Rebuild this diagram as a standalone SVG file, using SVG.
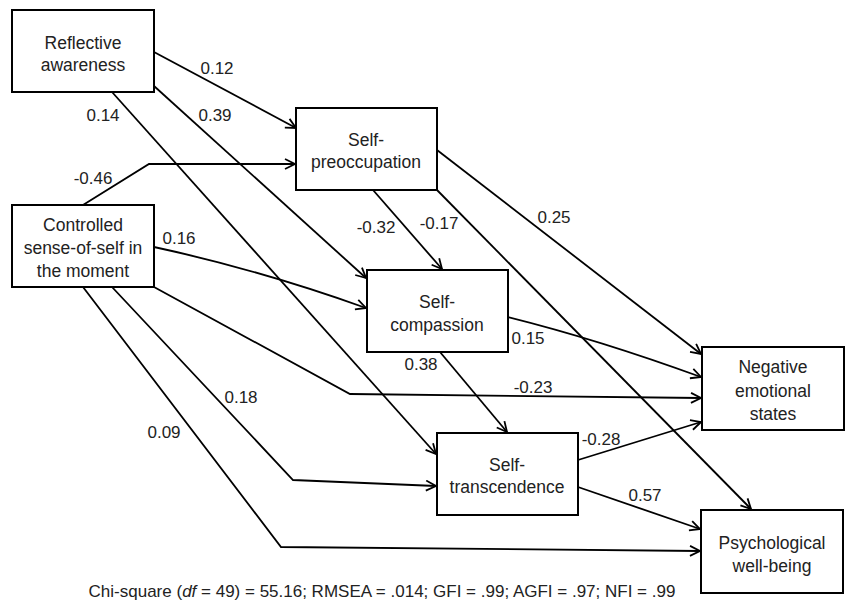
<svg xmlns="http://www.w3.org/2000/svg" width="846" height="607" viewBox="0 0 846 607">
<style>
.box{fill:#fff;stroke:#000;stroke-width:2}
.t{font-family:"Liberation Sans",Arial,sans-serif;font-size:17.5px;fill:#222;text-anchor:middle}
.lbl{font-family:"Liberation Sans",Arial,sans-serif;font-size:17px;fill:#222;text-anchor:middle}
.c{fill:none;stroke:#000;stroke-width:1.8;marker-end:url(#ah)}
.foot{font-family:"Liberation Sans",Arial,sans-serif;font-size:17px;fill:#222;text-anchor:middle}
</style>
<defs>
<marker id="ah" viewBox="0 0 12 12" refX="11" refY="6" markerWidth="12" markerHeight="12" markerUnits="userSpaceOnUse" orient="auto">
<path d="M1,1 L11,6 L1,11" fill="none" stroke="#000" stroke-width="1.8"/>
</marker>
</defs>
<rect width="846" height="607" fill="#fff"/>
<g id="connectors">
<path class="c" d="M154,52 L296,128"/>
<path class="c" d="M154,86 L366,278"/>
<path class="c" d="M112,92 L436,454"/>
<path class="c" d="M83,205 L149,164 L295,164"/>
<path class="c" d="M154,247 Q260,270 366,308"/>
<path class="c" d="M154,287 L350,394 L701,398"/>
<path class="c" d="M112,287 L293,480 L436,486"/>
<path class="c" d="M83,287 L281,547 L700,551"/>
<path class="c" d="M373,190 L442,269"/>
<path class="c" d="M437,190 L751,509"/>
<path class="c" d="M437,150 L701,354"/>
<path class="c" d="M508,317 Q600,340 701,377"/>
<path class="c" d="M440,352 L507,432"/>
<path class="c" d="M578,460 L701,422"/>
<path class="c" d="M578,487 L700,529"/>
</g>
<g id="labels">
<text class="lbl" x="217" y="74">0.12</text>
<text class="lbl" x="215" y="121">0.39</text>
<text class="lbl" x="103" y="121">0.14</text>
<text class="lbl" x="93" y="184">-0.46</text>
<text class="lbl" x="179" y="244">0.16</text>
<text class="lbl" x="533" y="393">-0.23</text>
<text class="lbl" x="241" y="403">0.18</text>
<text class="lbl" x="164" y="438">0.09</text>
<text class="lbl" x="376" y="233">-0.32</text>
<text class="lbl" x="439" y="229">-0.17</text>
<text class="lbl" x="554" y="223">0.25</text>
<text class="lbl" x="528" y="344">0.15</text>
<text class="lbl" x="421" y="370">0.38</text>
<text class="lbl" x="601" y="445">-0.28</text>
<text class="lbl" x="645" y="501">0.57</text>
</g>
<g id="reflective">
<rect class="box" x="12" y="10" width="142" height="82"/>
<text class="t" x="83" y="49">Reflective</text>
<text class="t" x="83" y="71">awareness</text>
</g>
<g id="controlled">
<rect class="box" x="12" y="205" width="142" height="82"/>
<text class="t" x="83" y="231">Controlled</text>
<text class="t" x="83" y="254">sense-of-self in</text>
<text class="t" x="83" y="277">the moment</text>
</g>
<g id="preoccupation">
<rect class="box" x="296" y="108" width="141" height="82"/>
<text class="t" x="366" y="146">Self-</text>
<text class="t" x="366" y="168">preoccupation</text>
</g>
<g id="compassion">
<rect class="box" x="367" y="270" width="141" height="82"/>
<text class="t" x="437" y="308">Self-</text>
<text class="t" x="437" y="331">compassion</text>
</g>
<g id="transcendence">
<rect class="box" x="437" y="433" width="141" height="82"/>
<text class="t" x="507" y="471">Self-</text>
<text class="t" x="507" y="493">transcendence</text>
</g>
<g id="negative">
<rect class="box" x="702" y="347" width="142" height="83"/>
<text class="t" x="773" y="373">Negative</text>
<text class="t" x="773" y="397">emotional</text>
<text class="t" x="773" y="420">states</text>
</g>
<g id="wellbeing">
<rect class="box" x="701" y="510" width="142" height="83"/>
<text class="t" x="772" y="549">Psychological</text>
<text class="t" x="772" y="572">well-being</text>
</g>
<text class="foot" x="382" y="597">Chi-square (<tspan font-style="italic">df</tspan> = 49) = 55.16; RMSEA = .014; GFI = .99; AGFI = .97; NFI = .99</text>
</svg>
